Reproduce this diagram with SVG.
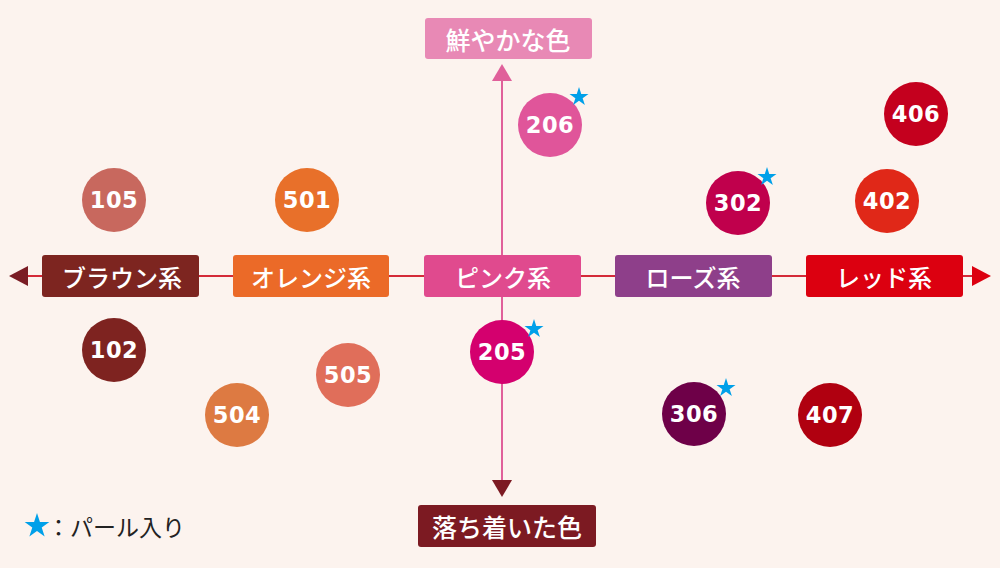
<svg xmlns="http://www.w3.org/2000/svg" xmlns:xlink="http://www.w3.org/1999/xlink" width="1000" height="568" viewBox="0 0 1000 568">
<style>
.lbl{font-family:"Noto Sans CJK JP","Noto Sans",sans-serif;fill:#fff;font-weight:500;text-anchor:middle;dominant-baseline:central}
.num{font-family:"DejaVu Sans","Liberation Sans",sans-serif;font-weight:bold;fill:#fff;font-size:22.5px;letter-spacing:0.5px;text-anchor:middle;dominant-baseline:central}
.star{fill:#00a0e9}
</style>
<defs>
<path id="star" d="M0,-1 L0.225,-0.309 L0.951,-0.309 L0.363,0.118 L0.588,0.809 L0,0.382 L-0.588,0.809 L-0.363,0.118 L-0.951,-0.309 L-0.225,-0.309 Z"/>
</defs>
<rect width="1000" height="568" fill="#fcf3ee"/>
<g id="connectors">
<line x1="26" y1="276" x2="974" y2="276" stroke="#d42a38" stroke-width="2"/>
<polygon points="9,276 28,266 28,286" fill="#7a1c24"/>
<polygon points="991,276 972,266 972,286" fill="#dc0010"/>
<line x1="502" y1="79" x2="502" y2="482" stroke="#e0609a" stroke-width="2"/>
<polygon points="502,64 492,81 512,81" fill="#e0609a"/>
<polygon points="502,497 492,480 512,480" fill="#7c1a22"/>
</g>
<g id="axis-top"><rect x="425" y="18" width="167" height="41" rx="3" fill="#e889b5"/><text class="lbl" x="508" y="38.5" font-size="25">鮮やかな色</text></g>
<g id="axis-bottom"><rect x="418" y="505" width="178" height="42" rx="3" fill="#7c1a22"/><text class="lbl" x="507" y="526" font-size="25">落ち着いた色</text></g>
<g id="brown"><rect x="42" y="255" width="157" height="42" rx="3" fill="#7d2520"/><text class="lbl" x="122" y="276" font-size="24">ブラウン系</text></g>
<g id="orange"><rect x="233" y="255" width="156" height="42" rx="3" fill="#eb6a28"/><text class="lbl" x="311" y="276" font-size="24">オレンジ系</text></g>
<g id="pink"><rect x="424" y="255" width="157" height="42" rx="3" fill="#e04a8e"/><text class="lbl" x="503" y="276" font-size="24">ピンク系</text></g>
<g id="rose"><rect x="615" y="255" width="157" height="42" rx="3" fill="#8e3f8a"/><text class="lbl" x="693" y="276" font-size="24">ローズ系</text></g>
<g id="red"><rect x="806" y="255" width="157" height="42" rx="3" fill="#dc0010"/><text class="lbl" x="884" y="276" font-size="24">レッド系</text></g>
<g id="c105"><circle cx="114" cy="200" r="32" fill="#c8685e"/><text class="num" x="114" y="200">105</text></g>
<g id="c501"><circle cx="307" cy="200" r="32" fill="#e8702a"/><text class="num" x="307" y="200">501</text></g>
<g id="c102"><circle cx="114" cy="350" r="32" fill="#7e2320"/><text class="num" x="114" y="350">102</text></g>
<g id="c505"><circle cx="348" cy="375" r="32" fill="#e06e5a"/><text class="num" x="348" y="375">505</text></g>
<g id="c504"><circle cx="237" cy="415" r="32" fill="#dd7a42"/><text class="num" x="237" y="415">504</text></g>
<g id="c206"><circle cx="550" cy="125" r="32" fill="#e0559a"/><text class="num" x="550" y="125">206</text><use xlink:href="#star" class="star" transform="translate(579,97) scale(10)"/></g>
<g id="c205"><circle cx="502" cy="352" r="32" fill="#d4006e"/><text class="num" x="502" y="352">205</text><use xlink:href="#star" class="star" transform="translate(534,329) scale(10)"/></g>
<g id="c302"><circle cx="738" cy="203" r="32" fill="#c0004c"/><text class="num" x="738" y="203">302</text><use xlink:href="#star" class="star" transform="translate(767,177) scale(10)"/></g>
<g id="c306"><circle cx="694" cy="414" r="32" fill="#6e0048"/><text class="num" x="694" y="414">306</text><use xlink:href="#star" class="star" transform="translate(726,388) scale(10)"/></g>
<g id="c406"><circle cx="916" cy="114" r="32" fill="#c4001e"/><text class="num" x="916" y="114">406</text></g>
<g id="c402"><circle cx="887" cy="201" r="32" fill="#e02818"/><text class="num" x="887" y="201">402</text></g>
<g id="c407"><circle cx="830" cy="415" r="32" fill="#b00010"/><text class="num" x="830" y="415">407</text></g>
<g id="legend"><use xlink:href="#star" class="star" transform="translate(37,526) scale(13)"/><text x="47" y="526" font-family="'Noto Sans CJK JP','Noto Sans',sans-serif" font-size="23" fill="#222" dominant-baseline="central">：パール入り</text></g>
</svg>
